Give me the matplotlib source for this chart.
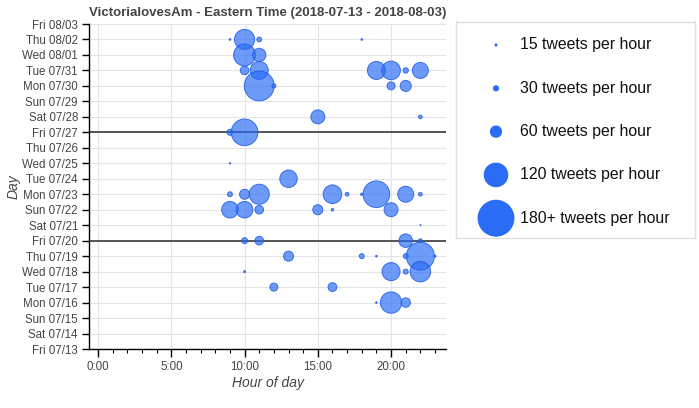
import matplotlib
matplotlib.use("Agg")
import matplotlib.pyplot as plt
import numpy as np
import pandas as pd

plt.rcParams['font.family'] = ['Liberation Sans', 'DejaVu Sans']

# day of each bubble, hour of day, tweets in that hour
bubble_days = ['08-02', '08-02', '08-02', '08-02',
               '08-01', '08-01',
               '07-31', '07-31', '07-31', '07-31', '07-31', '07-31',
               '07-30', '07-30', '07-30', '07-30',
               '07-28', '07-28',
               '07-27', '07-27',
               '07-25',
               '07-24',
               '07-23', '07-23', '07-23', '07-23', '07-23', '07-23', '07-23', '07-23', '07-23',
               '07-22', '07-22', '07-22', '07-22', '07-22', '07-22',
               '07-21',
               '07-20', '07-20', '07-20', '07-20',
               '07-19', '07-19', '07-19', '07-19', '07-19', '07-19',
               '07-18', '07-18', '07-18', '07-18',
               '07-17', '07-17',
               '07-16', '07-16', '07-16']
bubble_hours = [9, 10, 11, 18,
                10, 11,
                10, 11, 19, 20, 21, 22,
                11, 12, 20, 21,
                15, 22,
                9, 10,
                9,
                13,
                9, 10, 11, 16, 17, 18, 19, 21, 22,
                9, 10, 11, 15, 16, 20,
                22,
                10, 11, 21, 22,
                13, 18, 19, 21, 22, 23,
                10, 20, 21, 22,
                12, 16,
                19, 20, 21]
bubble_counts = [8, 98, 23, 8,
                 107, 65,
                 42, 88, 88, 91, 26, 78,
                 146, 20, 39, 54,
                 68, 18,
                 29, 130,
                 6,
                 85,
                 24, 49, 98, 91, 18, 12, 130, 78, 18,
                 81, 81, 42, 49, 12, 68,
                 5,
                 29, 42, 66, 18,
                 49, 24, 8, 24, 137, 10,
                 10, 88, 24, 100,
                 39, 43,
                 8, 104, 46]

legend_counts = [15, 30, 60, 120, 180]
legend_labels = ['15 tweets per hour', '30 tweets per hour', '60 tweets per hour',
                 '120 tweets per hour', '180+ tweets per hour']
week_starts = ['07-20', '07-27']

start, end = '2018-07-13', '2018-08-03'
days = pd.date_range(start, end)
day_labels = [d.strftime('%a %m/%d') for d in days]
day_index = {d.strftime('%m-%d'): i for i, d in enumerate(days)}

blue = '#2a6cf6'
text_c = '#444444'


def size_of(c):
    # bubble diameter grows linearly with the count
    d_pt = np.asarray(c) * 0.205 * 72 / 100
    return d_pt ** 2


fig = plt.figure(figsize=(6.99, 4.08), dpi=100)
ax = fig.add_axes([89 / 699, 59 / 408, 357 / 699, 325 / 408])

yy = [day_index[d] for d in bubble_days]
ax.scatter(bubble_hours, yy, s=size_of(bubble_counts), facecolor=(0.165, 0.424, 0.965, 0.68),
           edgecolor=(0.12, 0.36, 0.9, 0.85), linewidth=0.7, zorder=3, clip_on=False)

for w in week_starts:
    ax.axhline(day_index[w], color='#3a3a3a', lw=1.2, zorder=2)

ax.set_xlim(-0.62, 23.75)
ax.set_ylim(0, len(days) - 1)
ax.set_xticks([0, 5, 10, 15, 20])
ax.set_xticklabels(['0:00', '5:00', '10:00', '15:00', '20:00'])
ax.set_xticks(np.arange(0, 24), minor=True)
ax.set_yticks(np.arange(len(days)))
ax.set_yticklabels(day_labels)
ax.grid(True, which='major', color='#e4e4e4', lw=0.8, zorder=0)
ax.set_axisbelow(True)

for s in ['top', 'right']:
    ax.spines[s].set_visible(False)
for s in ['left', 'bottom']:
    ax.spines[s].set_color('black')
    ax.spines[s].set_linewidth(1)

ax.tick_params(axis='y', length=5, width=1, labelsize=8.3, labelcolor=text_c, pad=3)
ax.tick_params(axis='x', which='major', length=6, width=1, labelsize=8.3, labelcolor=text_c, pad=3)
ax.tick_params(axis='x', which='minor', length=3, width=0.8)

ax.set_xlabel('Hour of day', fontsize=10, style='italic', color=text_c, labelpad=2)
ax.set_ylabel('Day', fontsize=10, style='italic', color=text_c, labelpad=1)
ax.set_title('VictorialovesAm - Eastern Time (2018-07-13 - 2018-08-03)',
             fontsize=9.5, fontweight='bold', color=text_c, pad=6)

# legend panel on the right
lax = fig.add_axes([456 / 699, 170 / 408, 239 / 699, 216 / 408])
lax.set_xlim(0, 239)
lax.set_ylim(216, 0)
lax.set_xticks([])
lax.set_yticks([])
for s in lax.spines.values():
    s.set_color('#e0e0e0')
    s.set_linewidth(1)
for i, (c, lab) in enumerate(zip(legend_counts, legend_labels)):
    y = 23 + i * 43.3
    lax.scatter([40], [y], s=size_of(c), color=blue, edgecolor='none', clip_on=False)
    lax.text(64, y, lab, fontsize=11.4, va='center', ha='left', color='#111111')

fig.savefig('out.png', dpi=100)
